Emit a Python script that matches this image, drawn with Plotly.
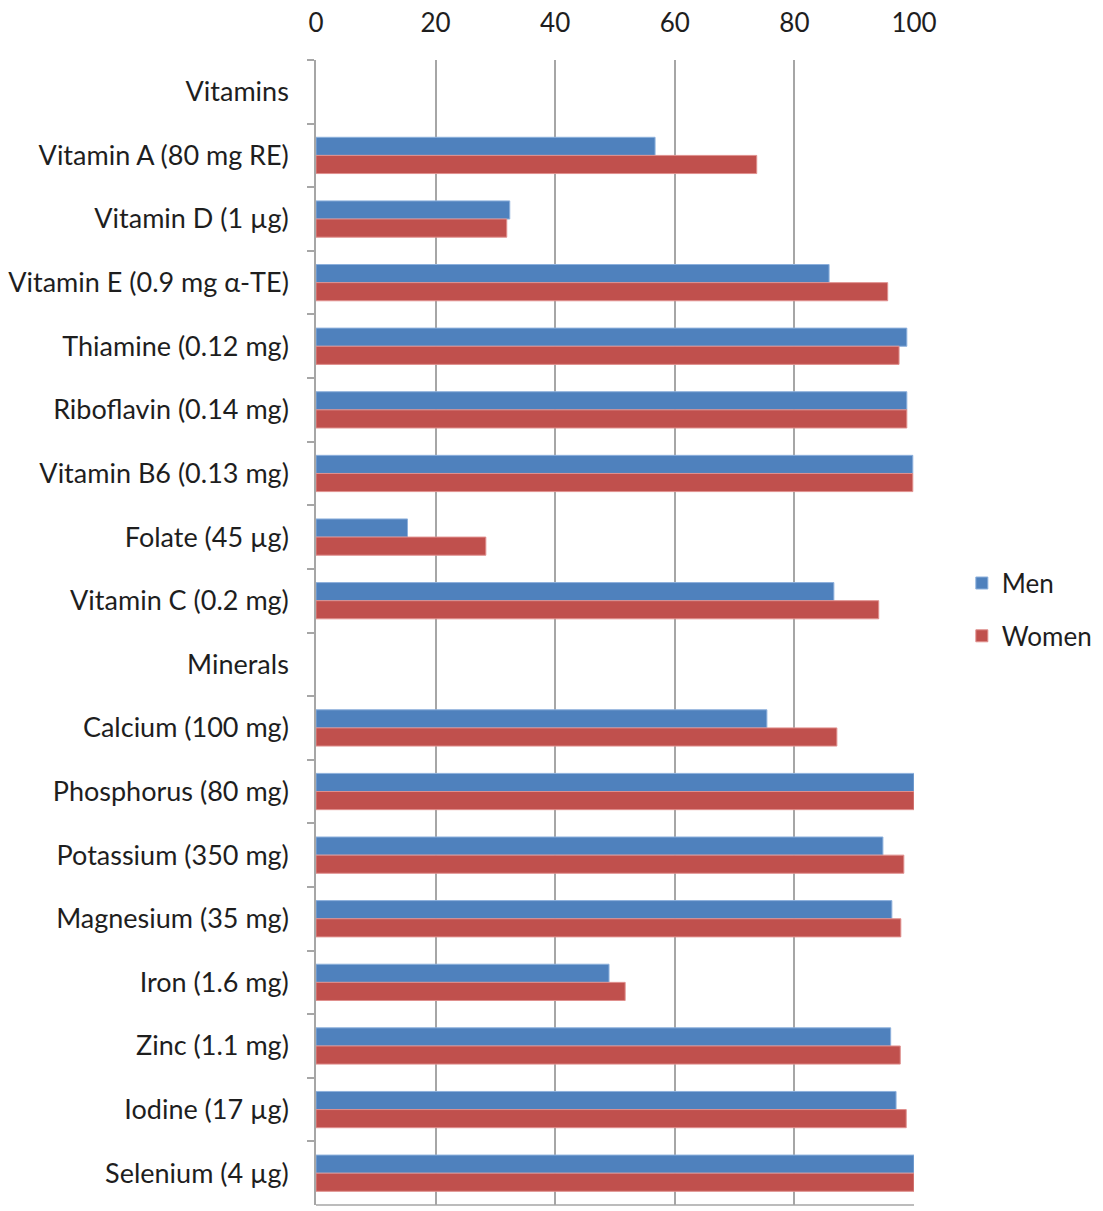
import plotly.graph_objects as go

# Nutrient categories (group headers have no bars)
categories = [
    "Vitamins",
    "Vitamin A (80 mg RE)",
    "Vitamin D (1 µg)",
    "Vitamin E (0.9 mg α-TE)",
    "Thiamine (0.12 mg)",
    "Riboflavin (0.14 mg)",
    "Vitamin B6 (0.13 mg)",
    "Folate (45 µg)",
    "Vitamin C (0.2 mg)",
    "Minerals",
    "Calcium (100 mg)",
    "Phosphorus (80 mg)",
    "Potassium (350 mg)",
    "Magnesium (35 mg)",
    "Iron (1.6 mg)",
    "Zinc (1.1 mg)",
    "Iodine (17 µg)",
    "Selenium (4 µg)",
]

men = [None, 56.7, 32.4, 85.8, 98.8, 98.8, 99.8, 15.3, 86.6,
       None, 75.4, 100.0, 94.8, 96.3, 49.0, 96.1, 97.0, 100.0]
women = [None, 73.7, 31.9, 95.6, 97.5, 98.8, 99.8, 28.4, 94.1,
         None, 87.1, 100.0, 98.3, 97.8, 51.7, 97.7, 98.7, 100.0]

x_ticks = [0, 20, 40, 60, 80, 100]

FONT = "Lato, 'Open Sans', sans-serif"
GRID = "#A6A6A6"
TEXT = "#1E1E1E"

fig = go.Figure()
fig.add_trace(go.Bar(
    name="Men", y=categories, x=men, orientation="h",
    marker=dict(color="#4F81BD", line=dict(color="#8DB0DC", width=1)),
    legendgroup="men",
))
fig.add_trace(go.Bar(
    name="Women", y=categories, x=women, orientation="h",
    marker=dict(color="#C0504D", line=dict(color="#E0908E", width=1)),
    legendgroup="women",
))

fig.update_layout(
    width=1103, height=1211,
    margin=dict(l=316, r=189, t=58, b=6),
    paper_bgcolor="white", plot_bgcolor="white",
    barmode="group", bargap=0.43, bargroupgap=0,
    font=dict(family=FONT, size=26, color=TEXT),
    legend=dict(
        x=1.08, y=0.52, xanchor="left", yanchor="middle",
        font=dict(size=26, color=TEXT),
        tracegroupgap=16, traceorder="grouped",
    ),
    xaxis=dict(
        side="top", range=[0, 100], tickvals=x_ticks,
        showgrid=True, gridcolor=GRID, gridwidth=1.5,
        zeroline=False, showline=False, ticks="",
        ticklabelstandoff=22,
        tickfont=dict(size=26, color=TEXT), fixedrange=True,
    ),
    yaxis=dict(
        type="category", autorange="reversed",
        showline=True, linecolor=GRID, linewidth=1.5,
        ticks="outside", tickson="boundaries", ticklen=7,
        tickcolor=GRID, tickwidth=1.5,
        ticklabelstandoff=20,
        showgrid=False, tickfont=dict(size=27, color=TEXT),
    ),
    shapes=[dict(
        type="line", xref="paper", yref="paper",
        x0=0, x1=1, y0=0, y1=0,
        line=dict(color=GRID, width=1.5),
    )],
)

fig.write_html("out.html")
